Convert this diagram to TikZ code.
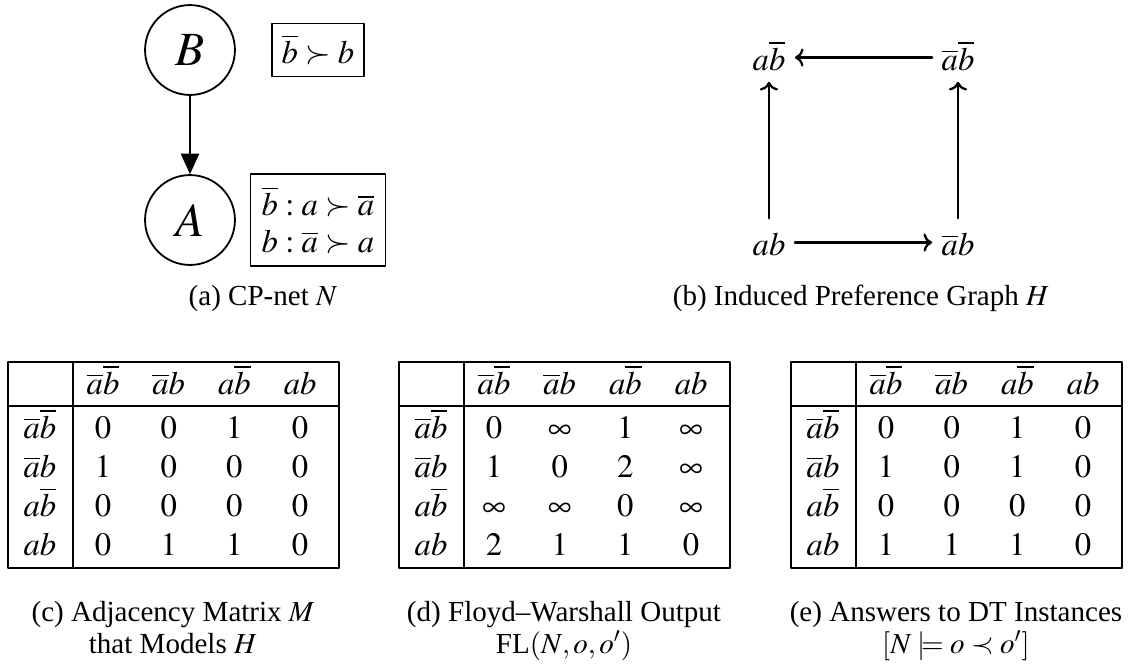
\documentclass[tikz,border=0pt]{standalone}
\usepackage{amsmath}
\usepackage{mathptmx}
\usepackage{fontspec}
\setmainfont{Liberation Serif}
\usepackage{tikz}
\usetikzlibrary{arrows.meta,positioning}

% Esiti
\newcommand{\nanb}{\overline{a}\overline{b}}
\newcommand{\nab}{\overline{a}b}
\newcommand{\anb}{a\overline{b}}
\newcommand{\pab}{ab}

\tikzset{
  var/.style={circle, draw, thick, minimum size=39.6pt, inner sep=0pt, font=\fontsize{21}{25}\selectfont},
  cpt/.style={draw, semithick, inner sep=3pt, font=\fontsize{14.4}{16}\selectfont},
  esito/.style={anchor=base, inner sep=4pt, text height=12pt, text depth=1pt, font=\fontsize{14.4}{17}\selectfont},
  cella/.style={anchor=base, inner sep=0pt, font=\fontsize{14.4}{17}\selectfont},
  didascalia/.style={align=center, anchor=base, inner sep=0pt, font=\fontsize{12.8}{14.1}\selectfont},
  riga/.style={line width=0.6pt},
  freccia/.style={line width=1pt, ->},
}

% Tabella: #1 ascissa sinistra, #2 nome, #3 righe
\newcommand{\tabella}[3]{%
  \draw[riga] (#1,362) rectangle ({#1+331},568);
  \draw[riga] ({#1+65},362) -- ({#1+65},568);
  \draw[riga] (#1,406) -- ({#1+331},406);
  \foreach \lab [count=\k] in {\nanb,\nab,\anb,\pab} {
    \node[cella] (#2-h\k) at ({#1+95+65.7*(\k-1)},394) {$\lab$};
    \node[cella] (#2-r\k) at ({#1+32},{438+39.3*(\k-1)}) {$\lab$};
  }
  \foreach \riga [count=\r] in {#3} {
    \foreach \v [count=\c] in \riga
      \node[cella] (#2-\r-\c) at ({#1+95+65.7*(\c-1)},{438+39.3*(\r-1)}) {$\v$};
  }
}

\begin{document}
\begin{tikzpicture}[x=0.4405pt, y=-0.4405pt, line cap=round, line join=round]
\useasboundingbox (0,0) rectangle (1134,670);

% (a) Rete CP
\node[var] (B) at (190,50) {$B$};
\node[var] (A) at (190,220) {$A$};
\draw[thick, -{Triangle[length=9pt, width=8pt]}] (B) -- (A);
\node[cpt, minimum width=40.5pt, minimum height=23.3pt] (cptB) at (318,50) {$\overline{b}\succ b$};
\node[cpt, minimum width=59.5pt, minimum height=40.5pt, align=left] (cptA) at (318,220)
  {$\overline{b}:a\succ\overline{a}$\\$b:\overline{a}\succ a$};
\node[didascalia] (capA) at (263,305) {(a) CP-net $N$};

% (b) Grafo
\node[esito] (g-anb) at (769,70) {$\anb$};
\node[esito] (g-nanb) at (958,70) {$\nanb$};
\node[esito] (g-ab) at (769,255) {$\pab$};
\node[esito] (g-nab) at (958,255) {$\nab$};
\draw[freccia] (g-nanb) -- (g-anb);
\draw[freccia] (g-ab) -- (g-anb);
\draw[freccia] (g-nab) -- (g-nanb);
\draw[freccia] (g-ab) -- (g-nab);
\node[didascalia] (capB) at (861,305) {(b) Induced Preference Graph $H$};

% (c) Matrice di adiacenza
\tabella{8}{M}{{0,0,1,0},{1,0,0,0},{0,0,0,0},{0,1,1,0}}
\node[didascalia] (capC) at (173,653) {(c) Adjacency Matrix $M$\\that Models $H$};

% (d) Floyd--Warshall
\tabella{399}{FL}{{0,\infty,1,\infty},{1,0,2,\infty},{\infty,\infty,0,\infty},{2,1,1,0}}
\node[didascalia] (capD) at (564,653) {(d) Floyd--Warshall Output\\FL$(N,o,o')$};

% (e) Risposte DT
\tabella{791}{DT}{{0,0,1,0},{1,0,1,0},{0,0,0,0},{1,1,1,0}}
\node[didascalia] (capE) at (956,653) {(e) Answers to DT Instances\\$[N\models o\prec o']$};

\end{tikzpicture}
\end{document}
